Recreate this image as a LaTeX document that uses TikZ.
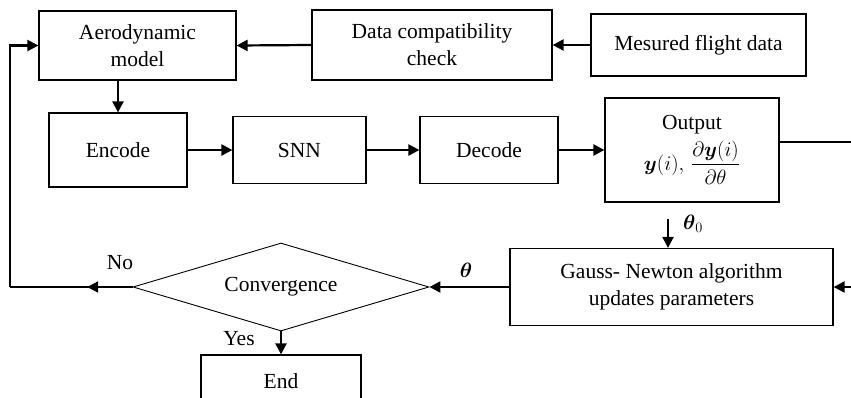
\documentclass[tikz,border=0pt]{standalone}
\usepackage{amsmath}
\usepackage{fontspec}
\setmainfont{Liberation Serif}
\usetikzlibrary{arrows.meta,shapes.geometric,calc}
\begin{document}
\begin{tikzpicture}[x=1pt,y=1pt,
  font=\fontsize{21.5}{27}\selectfont,
  box/.style={draw,line width=1.2pt,inner sep=0pt,align=center},
  conn/.style={line width=2.2pt},
  arr/.style={conn,-{Triangle[length=11pt,width=11pt]}},
  lbl/.style={inner sep=0pt}
]
\useasboundingbox (0,0) rectangle (851,-397);
\clip (0,0) rectangle (851,-397);
% top row
\node[box,minimum width=197,minimum height=69] (aero) at (137.5,-45.5) {Aerodynamic\\model};
\node[box,minimum width=240,minimum height=70] (data) at (432,-45) {Data compatibility\\check};
\node[box,minimum width=215,minimum height=62] (mes) at (698.5,-45) {Mesured flight data};
% middle row
\node[box,minimum width=138,minimum height=74] (enc) at (118,-150) {Encode};
\node[box,minimum width=133,minimum height=67] (snn) at (299.5,-150) {SNN};
\node[box,minimum width=138,minimum height=67] (dec) at (489,-150) {Decode};
\node[box,minimum width=174,minimum height=104] (out) at (692,-150) {Output\\[5pt]$\boldsymbol{y}(i),\,\dfrac{\partial \boldsymbol{y}(i)}{\partial\theta}$};
% bottom
\node[box,minimum width=323,minimum height=77] (gn) at (671.5,-287) {Gauss- Newton algorithm\\updates parameters};
\node[draw,diamond,line width=0.9pt,minimum width=296,minimum height=88,inner sep=0pt,shape aspect=3.36] (dia) at (281,-287) {Convergence};
\node[box,minimum width=160,minimum height=52] (end) at (281,-381) {End};
% labels
\node[lbl] (lno) at (120,-263) {No};
\node[lbl] (lyes) at (239,-339) {Yes};
\node[lbl] (lth) at (466,-270) {$\boldsymbol{\theta}$};
\node[lbl] (lth0) at (693,-224) {$\boldsymbol{\theta}_0$};
% connectors
\draw[arr] (mes.west) -- (data.east);
\draw[arr] (data.west) -- (aero.east);
\draw[arr] (enc.north |- aero.south) -- (enc.north);
\draw[arr] (enc.east) -- (snn.west);
\draw[arr] (snn.east) -- (dec.west);
\draw[arr] (dec.east) -- (out.west);
\coordinate (rt) at (880,-142);
\coordinate (rb) at (880,-287);
\draw[conn] ([yshift=8]out.east) -- (rt) -- (rb);
\draw[arr] (rb) -- (gn.east);
\coordinate (t0) at (668,-219);
\draw[arr] (t0) -- (t0 |- gn.north);
\draw[arr] (gn.west) -- (dia.east);
\draw[arr] (dia.south) -- (end.north);
\coordinate (lc) at (10,-287);
\draw[conn] (dia.west) -- (lc);
\draw[arr] (dia.west) -- ($(dia.west)!0.37!(lc)$);
\draw[arr] (lc) |- (aero.west);
\end{tikzpicture}
\end{document}
